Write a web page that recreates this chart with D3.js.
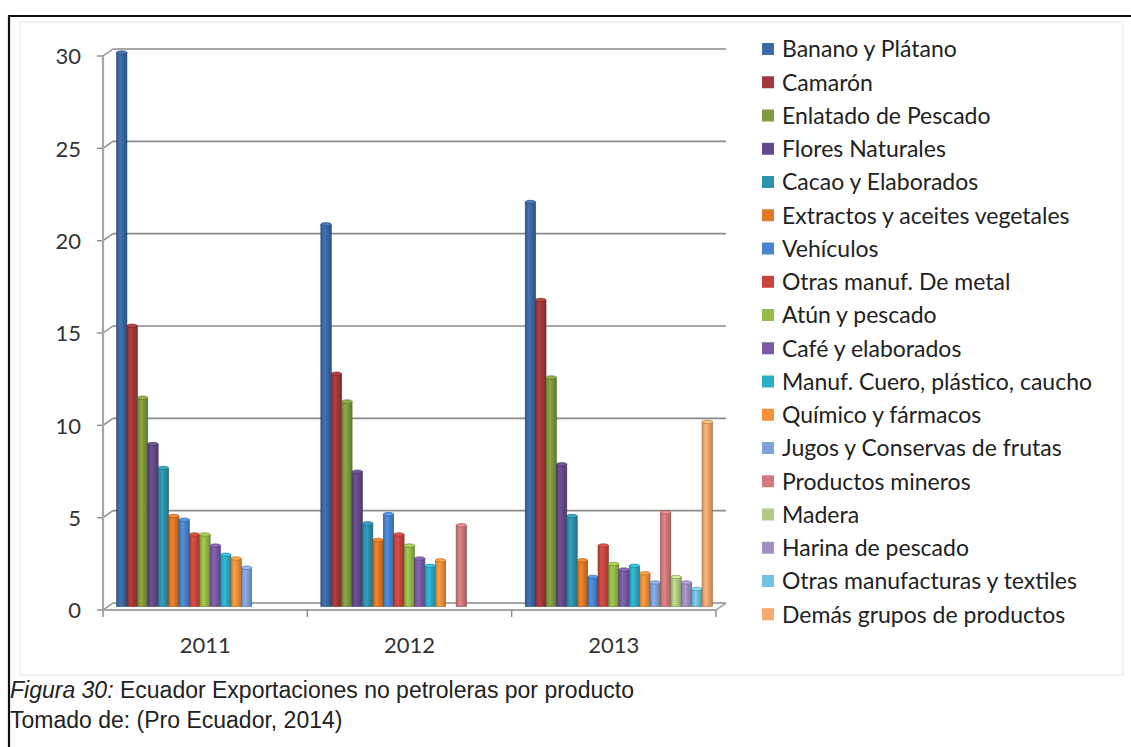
<!DOCTYPE html>
<html>
<head>
<meta charset="utf-8">
<script src="https://cdn.jsdelivr.net/npm/d3@7"></script>
<style>
  body { margin: 0; background: #fff; }
  .tick_text { font-family: Lato, "Open Sans", sans-serif; font-size: 22px; fill: #333; }
  .legend_text { font-family: Lato, "Open Sans", sans-serif; font-size: 23px; fill: #222; }
  .caption_text { font-family: "Liberation Sans", Arial, sans-serif; font-size: 23px; fill: #222; }
</style>
</head>
<body>
<svg id="view_svg_container" width="1131" height="747"></svg>
<script>

// DATA
// ========================================================================
var years = ["2011", "2012", "2013"];

var products = ["Banano y Plátano", "Camarón", "Enlatado de Pescado", "Flores Naturales",
                "Cacao y Elaborados", "Extractos y aceites vegetales", "Vehículos",
                "Otras manuf. De metal", "Atún y pescado", "Café y elaborados",
                "Manuf. Cuero, plástico, caucho", "Químico y fármacos",
                "Jugos y Conservas de frutas", "Productos mineros", "Madera",
                "Harina de pescado", "Otras manufacturas y textiles",
                "Demás grupos de productos"];

var colors = ["#3b6aa6", "#a3393a", "#7f9b3e", "#654a8a", "#2e93ad", "#e07a26",
              "#4a86cf", "#c9463f", "#97bb48", "#7b5ba6", "#2cadc9", "#f5913b",
              "#7fa2d9", "#d27b7e", "#b3cc83", "#a08fc4", "#6fc3dd", "#f9a86e"];

// one value per product, null where no bar is drawn
var values_2011 = [30.0, 15.2, 11.3, 8.8, 7.5, 4.9, 4.7, 3.9, 3.9, 3.3, 2.8, 2.6, 2.1,
                   null, null, null, null, null];
var values_2012 = [20.7, 12.6, 11.1, 7.3, 4.5, 3.6, 5.0, 3.9, 3.3, 2.6, 2.2, 2.5, null,
                   4.4, null, null, null, null];
var values_2013 = [21.9, 16.6, 12.4, 7.7, 4.9, 2.5, 1.6, 3.3, 2.3, 2.0, 2.2, 1.8, 1.3,
                   5.1, 1.6, 1.3, 0.95, 10.0];

var y_ticks = [0, 5, 10, 15, 20, 25, 30];
// ========================================================================

var svg = d3.select("#view_svg_container");

// 3D look: back wall sits up and right of the front axis
var DEPTH_X = 10, DEPTH_Y = -7;

var x0 = d3.scaleBand().domain(years).range([103, 716]);
var x1 = d3.scaleBand().domain(products).range([0, x0.bandwidth()]).paddingOuter(0.82);
var y = d3.scaleLinear().domain([0, 30]).range([610, 56]);

function yMid(v) { return y(v) + DEPTH_Y / 2; }


function drawFrame() {
  // chart area
  svg.append("rect")
      .attr("x", 20).attr("y", 22)
      .attr("width", 1103).attr("height", 653)
      .style("fill", "#fff").style("stroke", "#e6e6e6");

  // page border (top and left only)
  svg.append("line").attr("x1", 8).attr("x2", 1131).attr("y1", 16).attr("y2", 16)
      .style("stroke", "#111").style("stroke-width", 2.2);
  svg.append("line").attr("x1", 9).attr("x2", 9).attr("y1", 15).attr("y2", 747)
      .style("stroke", "#111").style("stroke-width", 2.2);
}


function drawAxes() {
  var g = svg.append("g").attr("id", "axes_group");
  var x_left = x0.range()[0], x_right = x0.range()[1];

  // back wall gridlines and the slanted side wall lines
  y_ticks.forEach(function(t) {
    g.append("line")
        .attr("x1", x_left + DEPTH_X).attr("x2", x_right + DEPTH_X)
        .attr("y1", y(t) + DEPTH_Y).attr("y2", y(t) + DEPTH_Y)
        .style("stroke", "#8a8a8a").style("stroke-width", 1.6);
    g.append("line")
        .attr("x1", x_left).attr("x2", x_left + DEPTH_X)
        .attr("y1", y(t)).attr("y2", y(t) + DEPTH_Y)
        .style("stroke", "#8a8a8a").style("stroke-width", 1.4);
    g.append("line")
        .attr("x1", x_left - 6).attr("x2", x_left)
        .attr("y1", y(t)).attr("y2", y(t))
        .style("stroke", "#8a8a8a").style("stroke-width", 1.4);
    g.append("text").attr("class", "tick_text")
        .attr("x", x_left - 22).attr("y", y(t)).attr("dy", "0.38em")
        .attr("text-anchor", "end")
        .text(t);
  });

  // vertical value axis
  g.append("line")
      .attr("x1", x_left).attr("x2", x_left)
      .attr("y1", y(30)).attr("y2", y(0))
      .style("stroke", "#a6a6a6").style("stroke-width", 2.2);

  // floor front edge and right slant
  g.append("line")
      .attr("x1", x_left).attr("x2", x_right)
      .attr("y1", y(0)).attr("y2", y(0))
      .style("stroke", "#a6a6a6").style("stroke-width", 2.2);
  g.append("line")
      .attr("x1", x_right).attr("x2", x_right + DEPTH_X)
      .attr("y1", y(0)).attr("y2", y(0) + DEPTH_Y)
      .style("stroke", "#a6a6a6").style("stroke-width", 1.6);

  // category ticks
  var edges = years.map(function(d) { return x0(d); }).concat([x_right]);
  edges.forEach(function(ex) {
    g.append("line")
        .attr("x1", ex).attr("x2", ex)
        .attr("y1", y(0)).attr("y2", y(0) + 7)
        .style("stroke", "#8a8a8a").style("stroke-width", 1.4);
  });

  g.selectAll(".year_text")
      .data(years).enter()
      .append("text").attr("class", "tick_text")
        .attr("x", function(d) { return x0(d) + x0.bandwidth() / 2; })
        .attr("y", 645).attr("dy", "0.35em")
        .attr("text-anchor", "middle")
        .text(function(d) { return d; });
}


function setupGradients() {
  var defs = svg.append("defs");
  colors.forEach(function(c, i) {
    var grad = defs.append("linearGradient")
        .attr("id", "bar_grad_" + i)
        .attr("x1", "0%").attr("x2", "100%").attr("y1", "0%").attr("y2", "0%");
    grad.append("stop").attr("offset", "0%").attr("stop-color", d3.color(c).darker(0.5));
    grad.append("stop").attr("offset", "35%").attr("stop-color", d3.color(c).brighter(0.25));
    grad.append("stop").attr("offset", "100%").attr("stop-color", d3.color(c).darker(0.7));
  });
}


function drawBars() {
  var series = [values_2011, values_2012, values_2013];
  var bar_data = [];
  years.forEach(function(yr, yi) {
    series[yi].forEach(function(v, pi) {
      if (v != null) bar_data.push({"year": yr, "product": products[pi], "index": pi, "value": v});
    });
  });

  var w = x1.bandwidth();
  var bars = svg.append("g").attr("id", "bars_group")
      .selectAll("g")
      .data(bar_data).enter()
      .append("g")
        .attr("transform", function(d) {
          return "translate(" + (x0(d.year) + x1(d.product) + DEPTH_X / 2) + ",0)";
        });

  bars.append("rect")
      .attr("x", 0).attr("width", w)
      .attr("y", function(d) { return yMid(d.value); })
      .attr("height", function(d) { return yMid(0) - yMid(d.value); })
      .style("fill", function(d) { return "url(#bar_grad_" + d.index + ")"; })
      .style("stroke", function(d) { return d3.color(colors[d.index]).darker(1.2); })
      .style("stroke-width", 0.6);

  bars.append("ellipse")
      .attr("cx", w / 2).attr("rx", w / 2)
      .attr("cy", function(d) { return yMid(d.value); }).attr("ry", 1.8)
      .style("fill", function(d) { return d3.color(colors[d.index]).brighter(0.4); })
      .style("stroke", function(d) { return d3.color(colors[d.index]).darker(1.2); })
      .style("stroke-width", 0.6);
}


function drawLegend() {
  var lg = svg.append("g").attr("id", "legend_group");
  var items = lg.selectAll("g")
      .data(products).enter()
      .append("g")
        .attr("transform", function(d, i) { return "translate(762," + (49 + i * 33.25) + ")"; });

  items.append("rect")
      .attr("x", 0).attr("y", -6).attr("width", 12).attr("height", 12)
      .style("fill", function(d, i) { return colors[i]; });

  items.append("text").attr("class", "legend_text")
      .attr("x", 20).attr("y", 0).attr("dy", "0.36em")
      .text(function(d) { return d; });
}


function drawCaption() {
  var t1 = svg.append("text").attr("class", "caption_text").attr("x", 10).attr("y", 698);
  t1.append("tspan").style("font-style", "italic").text("Figura 30:");
  t1.append("tspan").text(" Ecuador Exportaciones no petroleras por producto");

  svg.append("text").attr("class", "caption_text")
      .attr("x", 10).attr("y", 728)
      .text("Tomado de: (Pro Ecuador, 2014)");
}


drawFrame();
setupGradients();
drawAxes();
drawBars();
drawLegend();
drawCaption();

</script>
</body>
</html>
